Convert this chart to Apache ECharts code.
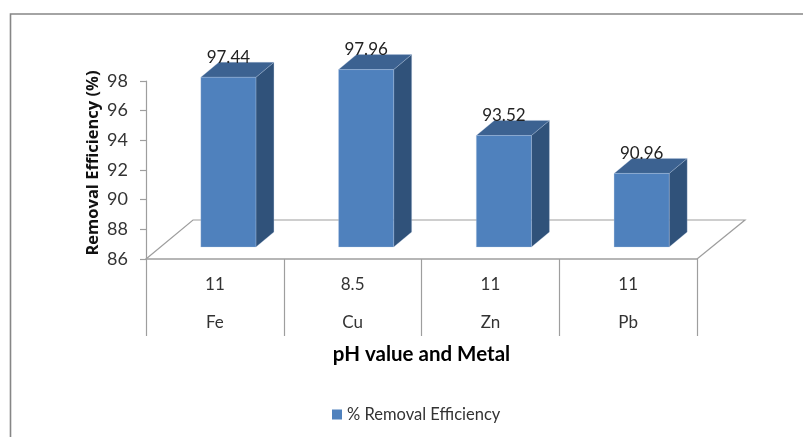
<!DOCTYPE html>
<html>
<head>
<meta charset="utf-8">
<style>html,body{margin:0;padding:0;background:#fff}#chart{width:803px;height:437px}</style>
<script src="https://cdn.jsdelivr.net/npm/echarts@6/dist/echarts.min.js"></script>
</head>
<body>
<div id="chart"></div>
<script>
// Removal efficiency per metal at its optimum pH
const metals = ['Fe', 'Cu', 'Zn', 'Pb'];
const phValues = ['11', '8.5', '11', '11'];
const removal = [97.44, 97.96, 93.52, 90.96];
const seriesName = '% Removal Efficiency';

const FONT = 'Lato, "Open Sans", sans-serif';
const AXIS_GRAY = '#9e9e9e';
const FRAME_GRAY = '#868686';
const FRONT = '#4f81bd', TOP = '#3c6291', SIDE = '#30527a', EDGE = 'rgba(185,205,229,0.55)';

// Oblique projection used for the bars and the floor
const DEPTH_X = 18, DEPTH_Y = 15, FLOOR_LIFT = 12;

const grid = { left: 146, top: 81, width: 551, height: 178 };
const floorBottom = grid.top + grid.height;
const floorRight = grid.left + grid.width;

function renderBar(params, api) {
  const i = api.value(0);
  const top = api.coord([i, api.value(1)]);
  const base = api.coord([i, 86]);
  const band = api.size([1, 0])[0];
  const w = band * 0.4;
  const cx = top[0] + band * 0.098;
  const l = cx - w / 2, r = cx + w / 2;
  const t = top[1] - FLOOR_LIFT, b = base[1] - FLOOR_LIFT;
  const poly = (points, fill) => ({
    type: 'polygon',
    shape: { points },
    style: { fill, stroke: EDGE, lineWidth: 0.5 }
  });
  return {
    type: 'group',
    children: [
      poly([[r, t], [r + DEPTH_X, t - DEPTH_Y], [r + DEPTH_X, b - DEPTH_Y], [r, b]], SIDE),
      poly([[l, t], [l + DEPTH_X, t - DEPTH_Y], [r + DEPTH_X, t - DEPTH_Y], [r, t]], TOP),
      poly([[l, t], [r, t], [r, b], [l, b]], FRONT),
      {
        type: 'text',
        style: {
          x: cx, y: t - 20,
          text: api.value(1).toFixed(2),
          align: 'center', verticalAlign: 'middle',
          fontFamily: FONT, fontSize: 17, fill: '#222'
        }
      }
    ]
  };
}

const chart = echarts.init(document.getElementById('chart'), null, { renderer: 'canvas' });
chart.setOption({
  animation: false,
  backgroundColor: '#fff',
  grid,
  graphic: [
    {
      // Outer chart frame: top and left edges
      type: 'polyline', z: 0, silent: true,
      shape: { points: [[10.5, 437], [10.5, 14], [803, 14]] },
      style: { fill: 'none', stroke: FRAME_GRAY, lineWidth: 1.6 }
    },
    {
      // Receding floor plane
      type: 'polyline', z: 0, silent: true,
      shape: { points: [
        [grid.left, floorBottom],
        [grid.left + 47, floorBottom - 39],
        [floorRight + 48, floorBottom - 39],
        [floorRight, floorBottom]
      ] },
      style: { fill: 'none', stroke: AXIS_GRAY, lineWidth: 1.2 }
    }
  ],
  legend: {
    data: [seriesName],
    left: 327, top: 401,
    icon: 'rect',
    itemWidth: 10, itemHeight: 10, itemGap: 5,
    textStyle: { fontFamily: FONT, fontSize: 16.5, color: '#333' }
  },
  xAxis: {
    type: 'category',
    data: metals,
    name: 'pH value and Metal',
    nameLocation: 'middle',
    nameGap: 85,
    nameMoveOverlap: false,
    nameTextStyle: { fontFamily: FONT, fontSize: 20.5, fontWeight: 'bold', color: '#000' },
    axisLine: { lineStyle: { color: AXIS_GRAY, width: 1.5 } },
    axisTick: { show: true, length: 77, alignWithLabel: false, lineStyle: { color: AXIS_GRAY, width: 1.2 } },
    axisLabel: {
      margin: 7,
      lineHeight: 38,
      fontFamily: FONT, fontSize: 17, color: '#333',
      formatter: (value, idx) => phValues[idx] + '\n' + value
    },
    splitLine: { show: false }
  },
  yAxis: {
    type: 'value',
    min: 86, max: 98, interval: 2,
    name: 'Removal Efficiency (%)',
    nameLocation: 'middle',
    nameGap: 44,
    nameMoveOverlap: false,
    nameTextStyle: {
      fontFamily: '"Open Sans", sans-serif', fontSize: 16.5, fontWeight: 'bold', color: '#111',
      padding: [0, 0, 0, 14]
    },
    axisLine: { show: true, lineStyle: { color: AXIS_GRAY, width: 1.2 } },
    axisTick: { show: true, length: 6, lineStyle: { color: AXIS_GRAY, width: 1.2 } },
    axisLabel: { margin: 18, fontFamily: FONT, fontSize: 18, color: '#333' },
    splitLine: { show: false }
  },
  series: [{
    type: 'custom',
    name: seriesName,
    renderItem: renderBar,
    clip: false,
    itemStyle: { color: FRONT },
    encode: { x: 0, y: 1 },
    data: removal.map((v, i) => [i, v])
  }]
});
</script>
</body>
</html>
